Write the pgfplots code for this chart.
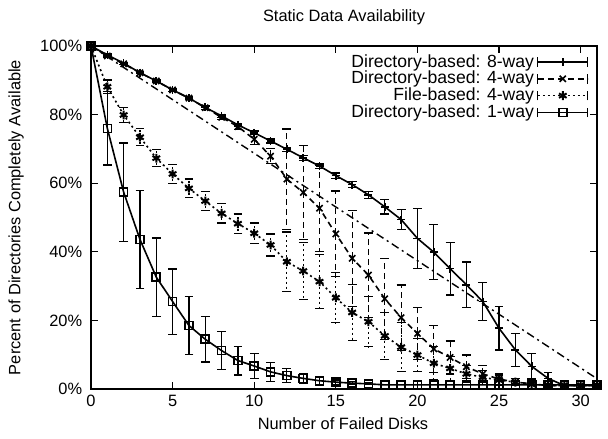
\documentclass[border=0pt]{standalone}
\usepackage{fontspec}
\setmainfont{Liberation Sans}
\usepackage{pgfplots}
\pgfplotsset{compat=1.18}
\usepackage{pgfplotstable}

\pgfplotstableread{
x y e
0 100 0
1 97.4 0.3
2 95.0 0.3
3 92.2 0.3
4 89.8 0.4
5 87.2 0.4
6 84.8 0.4
7 82.1 0.5
8 79.6 0.5
9 77.0 0.5
10 74.7 0.5
11 72.3 0.6
12 69.9 0.6
13 67.4 0.7
14 65.0 0.7
15 62.2 0.8
16 59.6 0.9
17 56.6 1.0
18 53.1 2.1
19 49.4 2.9
20 43.9 8.7
21 39.9 8.0
22 35.1 7.7
23 30.4 6.6
24 25.5 5.5
25 17.7 6.3
26 11.4 4.8
27 6.6 3.7
28 3.1 1.7
29 1.0 0.3
30 1.0 0
31 1.0 0
}\eightway

\pgfplotstableread{
x y e
0 100 0
1 97.1 0.3
2 94.8 0.3
3 92.2 0.3
4 89.8 0.3
5 87.2 0.4
6 84.8 0.4
7 82.0 0.5
8 79.2 0.6
9 76.5 0.8
10 72.8 1.5
11 67.9 2.2
12 61.2 14.6
13 57.3 13.8
14 52.7 12.6
15 45.2 12.5
16 38.1 14.0
17 33.2 12.3
18 26.3 11.8
19 20.8 9.5
20 16.2 7.5
21 11.7 6.8
22 9.2 4.8
23 6.5 3.4
24 4.4 2.5
25 2.9 1.5
26 2.0 1.0
27 1.5 0.5
28 1.0 0.3
29 1.0 0
30 1.0 0
31 1.0 0
}\fourway

\pgfplotstableread{
x y e
0 100 0
1 88.1 2.0
2 79.9 2.2
3 73.4 2.5
4 67.3 2.5
5 62.7 2.7
6 58.5 2.7
7 54.8 2.7
8 51.2 2.8
9 48.2 2.8
10 45.4 3.0
11 42.0 3.2
12 37.1 8.7
13 34.4 8.3
14 31.3 7.8
15 26.6 7.3
16 22.3 8.1
17 19.6 7.3
18 15.5 6.8
19 12.2 7.1
20 9.9 4.9
21 7.5 4.9
22 6.0 3.5
23 4.4 2.5
24 3.4 2.0
25 2.6 1.5
26 2.0 1.0
27 1.5 0.5
28 1.0 0.3
29 1.0 0
30 1.0 0
31 1.0 0
}\filebased

\pgfplotstableread{
x y e
0 100 0
1 76.0 10.7
2 57.4 14.3
3 43.6 14.3
4 32.6 11.4
5 25.5 9.5
6 18.5 8.5
7 14.5 6.6
8 11.2 5.5
9 8.3 4.2
10 6.7 3.7
11 5.0 2.8
12 3.9 2.0
13 3.1 1.5
14 2.4 1.0
15 2.0 0.6
16 1.7 0.4
17 1.5 0.3
18 1.2 0
19 1.2 0
20 1.2 0
21 1.2 0
22 1.2 0
23 1.2 0
24 1.2 0
25 1.2 0
26 1.2 0
27 1.2 0
28 1.2 0
29 1.2 0
30 1.2 0
31 1.2 0
}\oneway

\begin{document}
\fontsize{8.2pt}{10pt}\selectfont
\begin{tikzpicture}
\path[use as bounding box] (-45.5pt,-24.5pt) rectangle (258.5pt,194.5pt);
\begin{axis}[
  at={(0,0)}, anchor=south west,
  scale only axis, width=253pt, height=171.5pt,
  xmin=0, xmax=31, ymin=0, ymax=100,
  xtick={0,5,...,30}, ytick={0,20,...,100},
  yticklabel={\pgfmathprintnumber{\tick}\%},
  /pgf/number format/assume math mode=true,
  tick align=inside, tick pos=both, major tick length=3.5pt,
  axis line style={line width=0.7pt},
  every tick/.style={black, line width=0.6pt},
  yticklabel style={xshift=-1.5pt},
  title={Static Data Availability},
  title style={yshift=1.5pt},
  xlabel={Number of Failed Disks},
  ylabel={Percent of Directories Completely Available},
  every axis x label/.style={at={(axis description cs:0.498,-0.102)}, anchor=center},
  every axis y label/.style={at={(axis description cs:-0.148,0.5)}, rotate=90, anchor=center},
  legend style={at={(1,1)}, anchor=north east, xshift=-4pt, yshift=-2.5pt, draw=none, fill=none, inner sep=0pt, row sep=-2.2pt, nodes={inner sep=1.5pt}, font=\fontsize{8.8pt}{10pt}\selectfont},
  legend cell align=right, legend plot pos=right,
  legend image code/.code={
    \draw[#1,mark=none] (0pt,0pt) -- (25pt,0pt);
    \draw[solid,line width=0.6pt] (0pt,-2.4pt) -- (0pt,2.4pt) (25pt,-2.4pt) -- (25pt,2.4pt);
    \draw[#1] plot coordinates {(12.5pt,0pt)};
  },
]
\addplot[black, line width=0.8pt, mark=+, mark size=2pt, mark options={solid},
  error bars/y dir=both, error bars/y explicit,
  error bars/error bar style={line width=0.6pt, solid},
  error bars/error mark options={rotate=90, mark size=2.2pt, line width=0.6pt, solid}]
  table[x=x, y=y, y error=e]{\eightway};
\addlegendentry{Directory-based: 8-way}
\addplot[black, line width=0.8pt, dash pattern=on 3pt off 2pt, mark=x, mark size=2.2pt, mark options={solid},
  error bars/y dir=both, error bars/y explicit,
  error bars/error bar style={line width=0.6pt, dash pattern=on 3pt off 2pt},
  error bars/error mark options={rotate=90, mark size=2.2pt, line width=0.6pt, solid}]
  table[x=x, y=y, y error=e]{\fourway};
\addlegendentry{Directory-based: 4-way}
\addplot[black, line width=0.8pt, dash pattern=on 1pt off 1.5pt, mark=asterisk, mark size=2.2pt, mark options={solid, line width=1pt},
  error bars/y dir=both, error bars/y explicit,
  error bars/error bar style={line width=0.6pt, dash pattern=on 1pt off 1.5pt},
  error bars/error mark options={rotate=90, mark size=2.2pt, line width=0.6pt, solid}]
  table[x=x, y=y, y error=e]{\filebased};
\addlegendentry{File-based: 4-way}
\addplot[black, line width=0.8pt, mark=square, mark size=2pt, mark options={solid},
  error bars/y dir=both, error bars/y explicit,
  error bars/error bar style={line width=0.6pt, solid},
  error bars/error mark options={rotate=90, mark size=2.2pt, line width=0.6pt, solid}]
  table[x=x, y=y, y error=e]{\oneway};
\addlegendentry{Directory-based: 1-way}
\addplot[black, line width=0.7pt, dash pattern=on 4pt off 2pt on 1pt off 2pt, forget plot]
  coordinates {(0,100) (31,3)};
\end{axis}
\end{tikzpicture}
\end{document}
